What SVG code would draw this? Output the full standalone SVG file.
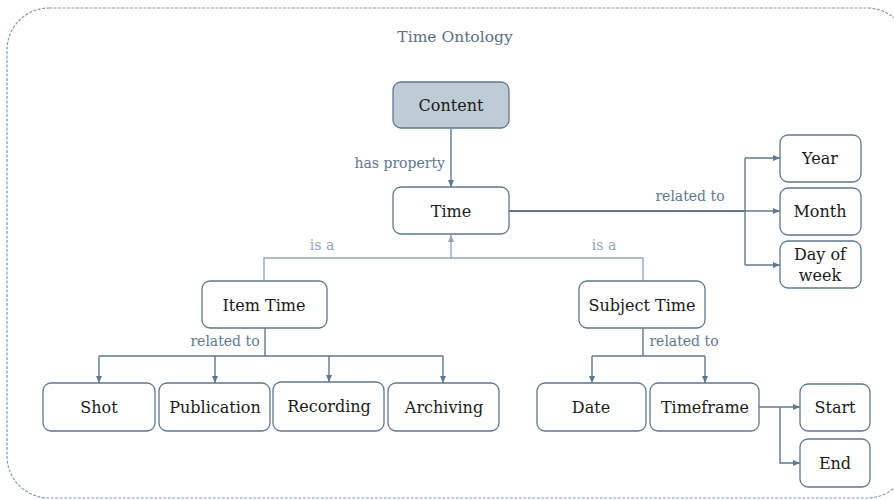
<svg xmlns="http://www.w3.org/2000/svg" width="894" height="500" viewBox="0 0 894 500">
<style>
.node rect{fill:#ffffff;stroke:#5f7891;stroke-width:1.3}
.node text{font-family:"DejaVu Serif","Liberation Serif",serif;font-size:16px;fill:#1a1a1a;text-anchor:middle;dominant-baseline:central}
.root rect{fill:#bfcbd5}
.conn path{fill:none;stroke:#5f7891;stroke-width:1.4}
.conn path.isa{stroke:#93a6ba}
.conn path.thick{stroke-width:2}
.lbl{font-family:"DejaVu Serif","Liberation Serif",serif;font-size:14px;fill:#5f7891;dominant-baseline:central}
.lbl.isa{fill:#93a6ba}
.title{font-family:"DejaVu Serif","Liberation Serif",serif;font-size:15.5px;fill:#5a6e85;text-anchor:middle;dominant-baseline:central}
</style>
<defs>
<marker id="ah" markerWidth="8" markerHeight="8" refX="7" refY="4" orient="auto" markerUnits="userSpaceOnUse">
<path d="M0,1 L7,4 L0,7 Z" fill="#5f7891"/>
</marker>
<marker id="ahl" markerWidth="8" markerHeight="8" refX="7" refY="4" orient="auto" markerUnits="userSpaceOnUse">
<path d="M0,1 L7,4 L0,7 Z" fill="#93a6ba"/>
</marker>
</defs>
<rect x="7" y="8" width="902" height="490" rx="42" ry="42" fill="none" stroke="#8a9aab" stroke-width="1.2" stroke-dasharray="3,1.5"/>
<text x="455" y="37" class="title">Time Ontology</text>

<g id="connectors" class="conn">
<path d="M451,129 V187" marker-end="url(#ah)"/>
<path class="thick" d="M509,211 H745"/>
<path d="M745,158 V265"/>
<path d="M745,158 H780" marker-end="url(#ah)"/>
<path d="M745,211 H780" marker-end="url(#ah)"/>
<path d="M745,265 H780" marker-end="url(#ah)"/>
<path class="isa" d="M264,281 V258 H643 V281"/>
<path class="isa" d="M451,258 V235" marker-end="url(#ahl)"/>
<path d="M265,328 V356"/>
<path d="M99,356 H443"/>
<path d="M99,356 V383" marker-end="url(#ah)"/>
<path d="M215,356 V383" marker-end="url(#ah)"/>
<path d="M329,356 V382" marker-end="url(#ah)"/>
<path d="M443,356 V383" marker-end="url(#ah)"/>
<path d="M643,328 V356"/>
<path d="M592,356 H705"/>
<path d="M592,356 V383" marker-end="url(#ah)"/>
<path d="M705,356 V383" marker-end="url(#ah)"/>
<path d="M759,407 H800" marker-end="url(#ah)"/>
<path d="M780,407 V463 H800" marker-end="url(#ah)"/>
</g>

<g id="labels">
<text class="lbl" x="445" y="163" text-anchor="end">has property</text>
<text class="lbl" x="690" y="196" text-anchor="middle">related to</text>
<text class="lbl isa" x="322" y="245" text-anchor="middle">is a</text>
<text class="lbl isa" x="604" y="245" text-anchor="middle">is a</text>
<text class="lbl" x="225" y="341" text-anchor="middle">related to</text>
<text class="lbl" x="684" y="341" text-anchor="middle">related to</text>
</g>

<g id="content" class="node root"><rect x="393" y="82" width="116" height="46" rx="8"/><text x="451" y="105">Content</text></g>
<g id="time" class="node"><rect x="393" y="187" width="116" height="47" rx="8"/><text x="451" y="211">Time</text></g>
<g id="year" class="node"><rect x="780" y="135" width="81" height="47" rx="8"/><text x="820" y="158">Year</text></g>
<g id="month" class="node"><rect x="780" y="188" width="81" height="47" rx="8"/><text x="820" y="211">Month</text></g>
<g id="dayofweek" class="node"><rect x="780" y="241" width="81" height="47" rx="8"/><text x="820" y="254">Day of</text><text x="820" y="275">week</text></g>
<g id="itemtime" class="node"><rect x="202" y="281" width="125" height="47" rx="8"/><text x="264" y="305">Item Time</text></g>
<g id="subjecttime" class="node"><rect x="579" y="281" width="126" height="47" rx="8"/><text x="642" y="305">Subject Time</text></g>
<g id="shot" class="node"><rect x="43" y="383" width="112" height="48" rx="8"/><text x="99" y="407">Shot</text></g>
<g id="publication" class="node"><rect x="159" y="383" width="111" height="48" rx="8"/><text x="215" y="407">Publication</text></g>
<g id="recording" class="node"><rect x="273" y="382" width="111" height="49" rx="8"/><text x="329" y="406">Recording</text></g>
<g id="archiving" class="node"><rect x="388" y="383" width="111" height="48" rx="8"/><text x="444" y="407">Archiving</text></g>
<g id="date" class="node"><rect x="537" y="383" width="109" height="48" rx="8"/><text x="591" y="407">Date</text></g>
<g id="timeframe" class="node"><rect x="650" y="383" width="109" height="48" rx="8"/><text x="705" y="407">Timeframe</text></g>
<g id="start" class="node"><rect x="800" y="384" width="70" height="47" rx="8"/><text x="835" y="407">Start</text></g>
<g id="end" class="node"><rect x="800" y="439" width="70" height="48" rx="8"/><text x="835" y="463">End</text></g>
</svg>
